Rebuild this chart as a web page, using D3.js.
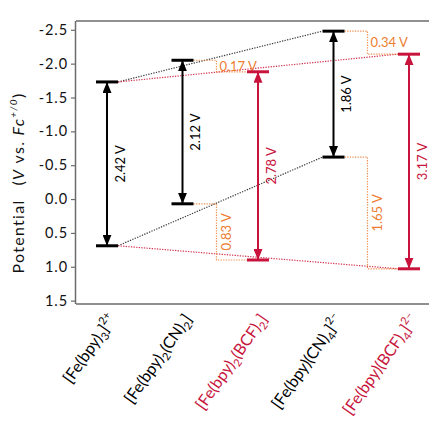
<!DOCTYPE html>
<html><head><meta charset="utf-8">
<script src="https://cdn.jsdelivr.net/npm/d3@7"></script>
<style>body{margin:0;background:#fff}svg{display:block}text{font-family:Lato,"Open Sans",sans-serif}</style>
</head><body><svg id="c" width="429" height="421"></svg>
<script>
// ---- data ----
const compounds = ["Fe(bpy)3", "Fe(bpy)2(CN)2", "Fe(bpy)2(BCF)2", "Fe(bpy)(CN)4", "Fe(bpy)(BCF)4"];
const upperPotential = [-1.73, -2.05, -1.88, -2.48, -2.14];
const lowerPotential = [0.69, 0.07, 0.90, -0.62, 1.03];
const seriesGroup = ["base", "base", "bcf", "base", "bcf"];
const yTicks = [-2.5, -2.0, -1.5, -1.0, -0.5, 0.0, 0.5, 1.0, 1.5];
const trendLinks = [{from: 0, to: 3, group: "base"}, {from: 0, to: 4, group: "bcf"}];
const gapPairs = [{from: 1, to: 2}, {from: 3, to: 4}];
const labelParts = [
  [["[Fe(bpy)", ""], ["3", "sub"], ["]", ""], ["2+", "sup"]],
  [["[Fe(bpy)", ""], ["2", "sub"], ["(CN)", ""], ["2", "sub"], ["]", ""]],
  [["[Fe(bpy)", ""], ["2", "sub"], ["(BCF)", ""], ["2", "sub"], ["]", ""]],
  [["[Fe(bpy)(CN)", ""], ["4", "sub"], ["]", ""], ["2\u2013", "sup"]],
  [["[Fe(bpy)(BCF)", ""], ["4", "sub"], ["]", ""], ["2\u2013", "sup"]]
];

// ---- styles ----
const col = {base: "#000000", bcf: "#c8143c"};
const dotCol = {base: "#3a3a3a", bcf: "#d4334f"};
const orange = "#ED7D31";
const fmt = d3.format(".2f");

const svg = d3.select("#c");
const pLeft = 76, pRight = 429, pTop = 21, pBottom = 304;
const y = d3.scaleLinear().domain([-2.63, 1.55]).range([pTop, pBottom]);
const x = d3.scalePoint().domain(d3.range(compounds.length)).range([107, 409]);
const halfBar = 11;

// frame
svg.append("line").attr("x1", pLeft).attr("x2", pRight).attr("y1", pTop).attr("y2", pTop)
  .attr("stroke", "#6b6b6b").attr("stroke-width", 1.5);
svg.append("line").attr("x1", pLeft).attr("x2", pRight).attr("y1", pBottom).attr("y2", pBottom)
  .attr("stroke", "#6b6b6b").attr("stroke-width", 1.5);

const yAxis = svg.append("g").attr("transform", `translate(${pLeft},0)`)
  .call(d3.axisLeft(y).tickValues(yTicks).tickSize(5).tickPadding(3).tickFormat(d => d.toFixed(1)));
yAxis.select(".domain").attr("stroke", "#6b6b6b").attr("stroke-width", 1.5)
  .attr("d", `M-0.5,${pTop}V${pBottom}`);
yAxis.selectAll(".tick line").attr("stroke", "#6b6b6b").attr("stroke-width", 1.2);
yAxis.selectAll(".tick text").attr("font-size", 14.5).attr("fill", "#111")
  .attr("letter-spacing", 0.9).attr("font-family", "Lato");

// y title
const yt = svg.append("text").attr("transform", "translate(24,183) rotate(-90)")
  .attr("text-anchor", "middle").attr("font-size", 16).attr("fill", "#111")
  .attr("letter-spacing", 1.3);
yt.append("tspan").text("Potential");
yt.append("tspan").attr("dx", 14).text("(");
yt.append("tspan").attr("font-style", "italic").text("V");
yt.append("tspan").text(" vs. ");
yt.append("tspan").attr("font-style", "italic").text("Fc");
yt.append("tspan").attr("font-style", "italic").attr("font-size", 10).attr("dy", -7).text("+/0");
yt.append("tspan").attr("dy", 7).text(")");

// markers
const defs = svg.append("defs");
Object.keys(col).forEach(k => {
  defs.append("marker").attr("id", "ah-" + k).attr("viewBox", "0 0 11 9")
    .attr("refX", 11).attr("refY", 4.5).attr("markerWidth", 11).attr("markerHeight", 9)
    .attr("markerUnits", "userSpaceOnUse").attr("orient", "auto-start-reverse")
    .append("path").attr("d", "M0,0L11,4.5L0,9Z").attr("fill", col[k]);
});

// trend dotted lines
trendLinks.forEach(l => {
  [upperPotential, lowerPotential].forEach(arr => {
    svg.append("line")
      .attr("x1", x(l.from) + halfBar).attr("y1", y(arr[l.from]))
      .attr("x2", x(l.to) - halfBar).attr("y2", y(arr[l.to]))
      .attr("stroke", dotCol[l.group]).attr("stroke-width", 1.2).attr("stroke-dasharray", "1.3,1.3");
  });
});

// gap brackets (orange)
gapPairs.forEach(g => {
  const bx = x(g.from) + (x(g.to) - x(g.from)) * 0.45;
  [upperPotential, lowerPotential].forEach(arr => {
    const y1 = y(arr[g.from]), y2 = y(arr[g.to]);
    svg.append("path")
      .attr("d", `M${x(g.from) + halfBar},${y1}H${bx}V${y2}H${x(g.to) - halfBar}`)
      .attr("fill", "none").attr("stroke", orange).attr("stroke-width", 1.2)
      .attr("stroke-dasharray", "1.3,1.3").attr("opacity", 0.85);
    const txt = fmt(Math.abs(arr[g.to] - arr[g.from])) + " V";
    const mid = (y1 + y2) / 2;
    if (Math.abs(y2 - y1) < 30) {
      svg.append("text").attr("x", bx + 3).attr("y", mid).attr("dy", "0.35em")
        .attr("font-size", 13).attr("fill", orange).text(txt);
    } else {
      svg.append("text").attr("transform", `translate(${bx + 10},${mid}) rotate(-90)`)
        .attr("text-anchor", "middle").attr("dy", "0.35em")
        .attr("font-size", 13).attr("fill", orange).text(txt);
    }
  });
});

// arrows, bars, labels
compounds.forEach((c, i) => {
  const g = seriesGroup[i], cx = x(i);
  const yu = y(upperPotential[i]), yl = y(lowerPotential[i]);
  svg.append("line").attr("x1", cx).attr("x2", cx).attr("y1", yl).attr("y2", yu)
    .attr("stroke", col[g]).attr("stroke-width", 2)
    .attr("marker-start", `url(#ah-${g})`).attr("marker-end", `url(#ah-${g})`);
  [yu, yl].forEach(yy => {
    svg.append("line").attr("x1", cx - halfBar).attr("x2", cx + halfBar).attr("y1", yy).attr("y2", yy)
      .attr("stroke", col[g]).attr("stroke-width", 3);
  });
  svg.append("text").attr("transform", `translate(${cx + 13},${(yu + yl) / 2}) rotate(-90)`)
    .attr("text-anchor", "middle").attr("dy", "0.35em")
    .attr("font-size", 13).attr("fill", col[g])
    .text(fmt(lowerPotential[i] - upperPotential[i]) + " V");

  // category label
  const t = svg.append("text").attr("transform", `translate(${cx + 10},319) rotate(-55)`)
    .attr("text-anchor", "end").attr("font-size", 16).attr("fill", col[g]);
  let shift = 0;
  labelParts[i].forEach(([s, kind]) => {
    const target = kind === "sub" ? 4 : kind === "sup" ? -7 : 0;
    const ts = t.append("tspan").attr("dy", target - shift).text(s);
    if (kind) ts.attr("font-size", 11);
    shift = target;
  });
});
</script></body></html>
